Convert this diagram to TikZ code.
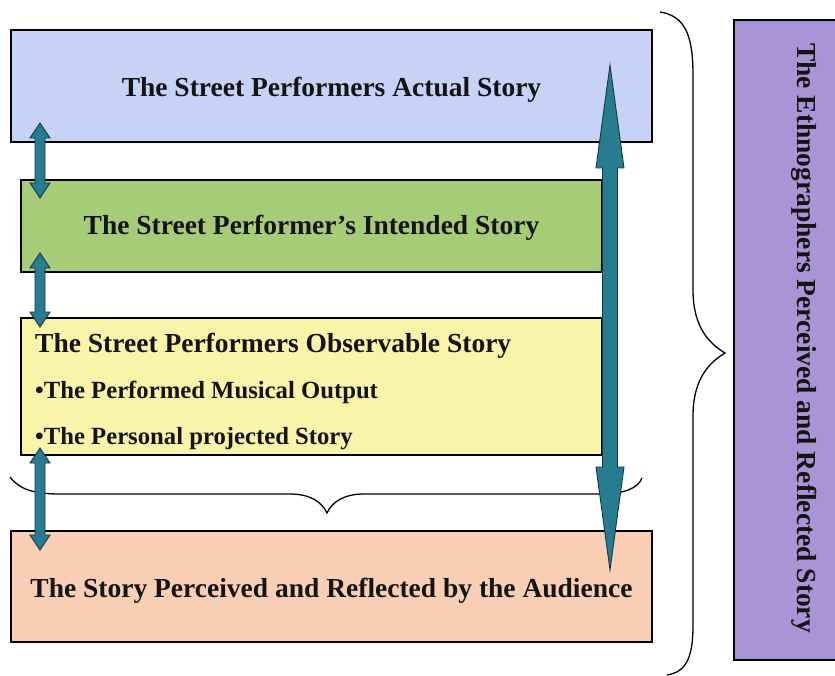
\documentclass[tikz,border=0pt]{standalone}
\usepackage{fontspec}
\setmainfont{Liberation Serif}
\usetikzlibrary{calc}
\definecolor{cBlue}{RGB}{198,211,246}
\definecolor{cGreen}{RGB}{166,204,120}
\definecolor{cYellow}{RGB}{250,243,170}
\definecolor{cSalmon}{RGB}{248,206,180}
\definecolor{cPurple}{RGB}{169,148,214}
\definecolor{cTeal}{RGB}{40,124,144}
\definecolor{cTealDark}{RGB}{24,54,66}
\tikzset{
  box/.style={draw=black, line width=1.5pt, inner sep=0pt, outer sep=0pt, anchor=north west},
  lbl/.style={inner sep=0pt, font=\bfseries\fontsize{27.5}{33}\selectfont, text=black!92},
  sublbl/.style={inner sep=0pt, font=\bfseries\fontsize{24.7}{30}\selectfont, text=black!92},
  arr/.style={fill=cTeal, draw=cTealDark, line width=0.9pt, line join=miter},
  brace/.style={draw=black, line width=1.3pt}
}
\newcommand{\dArrow}[5]{%
  \filldraw[arr] (#1) -- ($(#1)+(#4,#5)$) -- ($(#1)+(#3,#5)$) -- ($(#2)+(#3,-#5)$) -- ($(#2)+(#4,-#5)$) -- (#2)
    -- ($(#2)+(-#4,-#5)$) -- ($(#2)+(-#3,-#5)$) -- ($(#1)+(-#3,#5)$) -- ($(#1)+(-#4,#5)$) -- cycle;}
\begin{document}
\begin{tikzpicture}[x=1pt,y=-1pt]
\useasboundingbox (0,0) rectangle (835,676);
\fill[white] (0,0) rectangle (835,676);
% boxes
\node[box, fill=cBlue, minimum width=641pt, minimum height=112pt] (b1) at (11,30) {};
\node[box, fill=cGreen, minimum width=581pt, minimum height=92pt] (b2) at (21,180) {};
\node[box, fill=cYellow, minimum width=581pt, minimum height=137pt] (b3) at (21,318) {};
\node[box, fill=cSalmon, minimum width=641pt, minimum height=111pt] (b4) at (11,531) {};
\node[box, fill=cPurple, minimum width=120pt, minimum height=640pt] (pb) at (734,20) {};
% texts
\node[lbl, anchor=base] (t1) at (331.5,96.5) {The Street Performers Actual Story};
\node[lbl, anchor=base] (t2) at (311.5,235) {The Street Performer’s Intended Story};
\node[lbl, anchor=base west] (t3a) at (35,352) {The Street Performers Observable Story};
\node[sublbl, anchor=base west] (t3b) at (35,398) {•The Performed Musical Output};
\node[sublbl, anchor=base west] (t3c) at (35,444) {•The Personal projected Story};
\node[lbl, anchor=base] (t4) at (331.5,597) {The Story Perceived and Reflected by the Audience};
\node[lbl, anchor=base, rotate=-90] (tp) at (797,338) {The Ethnographers Perceived and Reflected Story};
% braces
\draw[brace] (660,12) .. controls (685,16) and (693,35) .. (693,75) -- (693,290)
  .. controls (693,330) and (712,345) .. (725,353)
  .. controls (712,361) and (693,376) .. (693,416) -- (693,625)
  .. controls (693,660) and (685,672) .. (667,675);
\draw[brace] (10,477) .. controls (20,490) and (35,494) .. (60,494) -- (290,494)
  .. controls (310,494) and (322,502) .. (327,513)
  .. controls (332,502) and (344,494) .. (364,494) -- (600,494)
  .. controls (625,494) and (638,488) .. (642,478);
% arrow end points
\coordinate (a1t) at (40,123);
\coordinate (a1b) at (40,198);
\coordinate (a2t) at (40,253);
\coordinate (a2b) at (40,327);
\coordinate (a3t) at (40,448);
\coordinate (a3b) at (40,550);
\coordinate (a4t) at (610,65);
\coordinate (a4b) at (610,570);
\dArrow{a1t}{a1b}{5}{10}{15}
\dArrow{a2t}{a2b}{5}{10}{15}
\dArrow{a3t}{a3b}{5}{10}{15}
\dArrow{a4t}{a4b}{7.5}{14}{103}
\end{tikzpicture}
\end{document}
